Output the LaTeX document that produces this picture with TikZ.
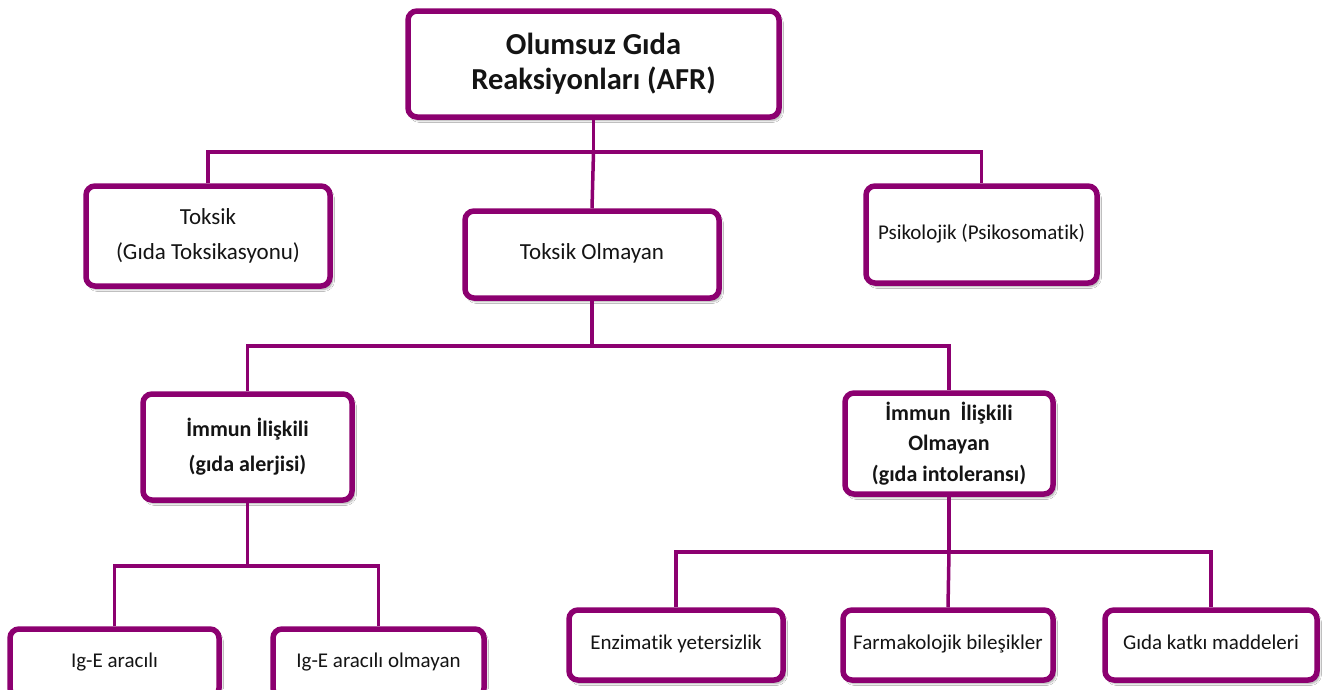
\documentclass[tikz,border=0pt]{standalone}
\usepackage{fontspec}
\setmainfont{Carlito}[Ligatures=NoCommon]
\usetikzlibrary{shadows.blur}
\definecolor{afrpurple}{RGB}{140,0,112}
\definecolor{afrtext}{RGB}{20,20,20}
\tikzset{
  box/.style={draw=afrpurple, line width=5.5pt, rounded corners=9pt, fill=white,
    inner sep=0pt, align=center, text=afrtext,
    blur shadow={shadow blur steps=6, shadow xshift=2.5pt, shadow yshift=-3.5pt, shadow opacity=35}},
  link/.style={draw=afrpurple, line width=3.5pt},
  big/.style={font=\bfseries\fontsize{30.5}{35}\selectfont},
  mid/.style={font=\fontsize{23}{35}\selectfont},
  midb/.style={font=\bfseries\fontsize{22}{31}\selectfont},
  small/.style={font=\fontsize{21}{24}\selectfont, text height=14pt, text depth=5pt}
}
\begin{document}
\begin{tikzpicture}[x=1pt,y=-1pt]
\useasboundingbox (0,0) rectangle (1324,689);
\clip (0,0) rectangle (1324,689);
\fill[white] (0,0) rectangle (1324,689);
% nodes
\node[box,big,minimum width=371pt,minimum height=106pt] (top) at (593.5,64) {Olumsuz Gıda\\Reaksiyonları (AFR)};
\node[box,mid,minimum width=244pt,minimum height=100pt] (tok) at (208,236) {Toksik\\(Gıda Toksikasyonu)};
\node[box,mid,text height=16pt,text depth=6pt,minimum width=254pt,minimum height=87pt] (tolm) at (592,254.5) {Toksik Olmayan};
\node[box,small,minimum width=231pt,minimum height=97pt] (psi) at (981.5,234.5) {Psikolojik (Psikosomatik)};
\node[box,font=\bfseries\fontsize{22}{35}\selectfont,minimum width=209pt,minimum height=106pt] (imm) at (247.5,447) {İmmun İlişkili\\(gıda alerjisi)};
\node[box,midb,minimum width=208pt,minimum height=101pt] (immo) at (949,443.5) {İmmun\ \ İlişkili\\[-1pt]Olmayan\\(gıda intoleransı)};
\node[box,small,minimum width=209pt,minimum height=68pt] (ige1) at (114.5,663) {Ig-E aracılı};
\node[box,small,minimum width=211pt,minimum height=68pt] (ige2) at (378.5,663) {Ig-E aracılı olmayan};
\node[box,small,minimum width=214pt,minimum height=70pt] (enz) at (676,645) {Enzimatik yetersizlik};
\node[box,small,minimum width=210pt,minimum height=70pt] (farm) at (948,645) {Farmakolojik bileşikler};
\node[box,small,minimum width=212pt,minimum height=70pt] (gida) at (1211,645) {Gıda katkı maddeleri};
% buses
\coordinate (b1) at (593.5,152);
\coordinate (b2) at (592,346);
\coordinate (b3) at (247.5,566);
\coordinate (b4) at (949,552);
% connectors
\draw[link] (top.south) -- (b1);
\draw[link] (tok.north) |- (b1) -| (psi.north);
\draw[link] (b1) -- (tolm.north);
\draw[link] (tolm.south) -- (b2);
\draw[link] (imm.north) |- (b2) -| (immo.north);
\draw[link] (imm.south) -- (b3);
\draw[link] (ige1.north) |- (b3) -| (ige2.north);
\draw[link] (immo.south) -- (b4);
\draw[link] (enz.north) |- (b4) -| (gida.north);
\draw[link] (b4) -- (farm.north);
\end{tikzpicture}
\end{document}
